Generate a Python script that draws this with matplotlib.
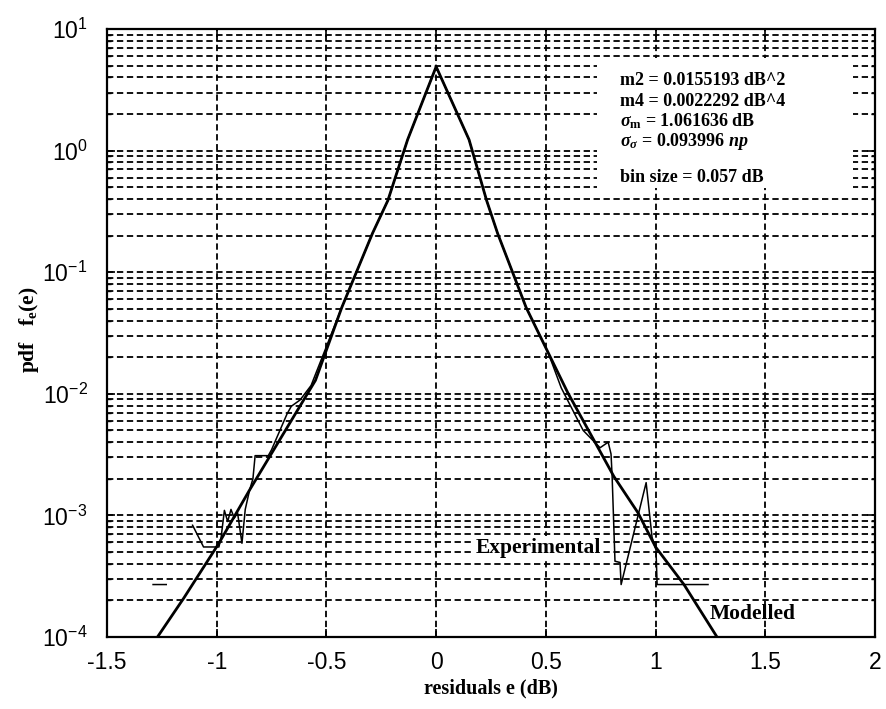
import numpy as np
import matplotlib
matplotlib.use("Agg")
import matplotlib.pyplot as plt
import matplotlib.patches as patches
from matplotlib.ticker import LogLocator, NullFormatter, LogFormatterSciNotation

plt.rcParams["font.family"] = "Liberation Sans"
plt.rcParams["mathtext.fontset"] = "custom"
plt.rcParams["mathtext.rm"] = "Liberation Serif:bold"
plt.rcParams["mathtext.it"] = "Liberation Serif:bold:italic"
plt.rcParams["mathtext.bf"] = "Liberation Serif:bold"

# --- modelled pdf of the residuals ---
model_e = [-1.27, -1.15, -0.99, -0.85, -0.55, -0.43, -0.29, -0.22, -0.13, 0.0,
           0.15, 0.23, 0.28, 0.41, 0.51, 0.60, 0.81, 0.92, 1.00, 1.13, 1.28]
model_pdf = [1.0e-4, 2.09e-4, 5.9e-4, 1.62e-3, 1.29e-2, 5.13e-2, 0.209, 0.389, 1.23, 4.9,
             1.23, 0.389, 0.209, 5.13e-2, 2.19e-2, 1.02e-2, 2.09e-3, 1.05e-3, 5.5e-4, 2.69e-4, 1.0e-4]

# --- experimental histogram (bin size 0.057 dB), NaN = empty bins ---
exp_e = [-1.29, -1.23, np.nan,
         -1.11, -1.06, -0.99, -0.98, -0.965, -0.95, -0.935, -0.92, -0.905, -0.885,
         -0.87, -0.85, -0.835, -0.825, -0.765, -0.75, -0.68, -0.66, -0.62, -0.57,
         -0.43, -0.29, -0.22, -0.13, 0.0, 0.15, 0.23, 0.28, 0.41, 0.51,
         0.57, 0.67, 0.747, 0.784, 0.797, 0.802, 0.815, 0.838, 0.843,
         0.957, 0.984, 1.002, 1.007, 1.239]
exp_pdf = [2.7e-4, 2.7e-4, np.nan,
           8.3e-4, 5.5e-4, 5.5e-4, 6.6e-4, 1.10e-3, 8.9e-4, 1.12e-3, 9.5e-4, 1.05e-3, 5.9e-4,
           1.12e-3, 1.62e-3, 2.0e-3, 3.1e-3, 3.1e-3, 3.47e-3, 6.8e-3, 7.9e-3, 8.9e-3, 1.17e-2,
           5.13e-2, 0.209, 0.389, 1.23, 4.9, 1.23, 0.389, 0.209, 5.13e-2, 2.19e-2,
           1.12e-2, 5.0e-3, 3.6e-3, 4.0e-3, 3.2e-3, 2.1e-3, 4.2e-4, 4.1e-4, 2.7e-4,
           1.86e-3, 6.6e-4, 5.2e-4, 2.7e-4, 2.7e-4]

xticks = [-1.5, -1, -0.5, 0, 0.5, 1, 1.5, 2]
xticklabels = ["-1.5", "-1", "-0.5", "0", "0.5", "1", "1.5", "2"]

stats_lines = ["m2 = 0.0155193 dB^2",
               "m4 = 0.0022292 dB^4",
               r"$\sigma_{\mathrm{m}}$ = 1.061636 dB",
               r"$\sigma_{\sigma}$ = 0.093996 $\mathit{np}$",
               "bin size = 0.057 dB"]
stats_y = [0.908, 0.874, 0.840, 0.807, 0.748]

fig = plt.figure(figsize=(8.86, 7.09), dpi=100, facecolor="white")
ax = fig.add_axes([107 / 886, 1 - 637 / 709, 768 / 886, 608 / 709])

ax.set_yscale("log")
ax.set_xlim(-1.5, 2)
ax.set_ylim(1e-4, 10)

ax.plot(model_e, model_pdf, color="black", linewidth=2.0, zorder=3)
ax.plot(exp_e, exp_pdf, color="black", linewidth=1.1, zorder=3)

# dashed grid, minor lines included on the log axis
grid_style = dict(color="black", linestyle=(0, (3.5, 2)), linewidth=1.3)
ax.yaxis.set_major_locator(LogLocator(base=10, numticks=10))
ax.yaxis.set_minor_locator(LogLocator(base=10, subs=np.arange(2, 10), numticks=10))
ax.yaxis.set_minor_formatter(NullFormatter())
ax.yaxis.set_major_formatter(LogFormatterSciNotation())
ax.grid(True, which="major", axis="both", **grid_style)
ax.grid(True, which="minor", axis="y", **grid_style)

ax.set_xticks(xticks)
ax.set_xticklabels(xticklabels)
ax.tick_params(which="both", direction="in", top=True, right=True, colors="black")
ax.tick_params(which="major", length=6, width=1.2, labelsize=16.5)
ax.tick_params(axis="x", which="major", pad=10)
ax.tick_params(axis="y", which="major", pad=14)
ax.tick_params(which="minor", length=3, width=1.0)
for sp in ax.spines.values():
    sp.set_linewidth(1.6)

# white box behind the statistics
ax.add_patch(patches.Rectangle((0.638, 0.7385), 0.333, 0.2135, transform=ax.transAxes,
                               facecolor="white", edgecolor="none", zorder=2.5))
for line, yy in zip(stats_lines, stats_y):
    ax.text(0.668, yy, line, transform=ax.transAxes, ha="left", va="baseline",
            family="Liberation Serif", fontweight="bold", fontsize=13, zorder=4)

ax.text(0.178, 4.9e-4, "Experimental", ha="left", va="baseline",
        family="Liberation Serif", fontweight="bold", fontsize=15.5, zorder=4,
        bbox=dict(facecolor="white", edgecolor="none", pad=1.5))
ax.text(1.248, 1.41e-4, "Modelled", ha="left", va="baseline",
        family="Liberation Serif", fontweight="bold", fontsize=15.5, zorder=4)

fig.text(491 / 886, 1 - 688 / 709, "residuals e (dB)", ha="center", va="center",
         family="Liberation Serif", fontweight="bold", fontsize=14.5)
fig.text(29 / 886, 1 - 330 / 709, r"pdf   f$_{\mathrm{e}}$(e)", ha="center", va="center",
         rotation=90, family="Liberation Serif", fontweight="bold", fontsize=15.5)

fig.savefig("out.png", dpi=100, facecolor="white")
